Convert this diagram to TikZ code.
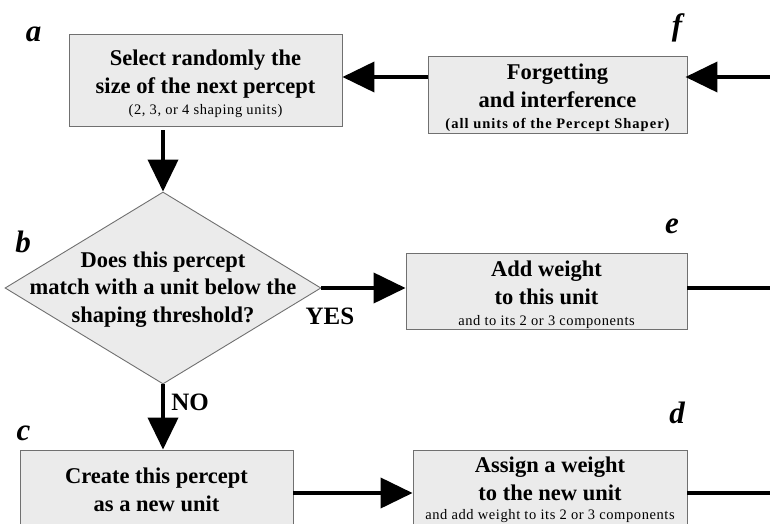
\documentclass[tikz,border=0pt]{standalone}
\usepackage{fontspec}
\setmainfont{Liberation Serif}
\usetikzlibrary{arrows.meta,shapes.geometric}
\definecolor{boxfill}{HTML}{EBEBEB}
\definecolor{boxline}{HTML}{707070}
\newfontfamily\smallreg[LetterSpace=4]{Liberation Serif}
\newfontfamily\smallbf[LetterSpace=7,UprightFont=* Bold]{Liberation Serif}
\newcommand{\smalltxt}[1]{{\fontsize{14.5}{17}\smallreg\mdseries #1}}
\newcommand{\smallbold}[1]{{\fontsize{14.5}{17}\smallbf #1}}
\newcommand{\lift}[1]{\rule{0pt}{#1}}
\begin{document}
\begin{tikzpicture}[x=1pt,y=-1pt,
  box/.style={draw=boxline, fill=boxfill, line width=0.9pt, inner sep=0pt, align=center,
    font=\fontsize{22.5}{28}\selectfont\bfseries},
  dtext/.style={inner sep=0pt, align=center, font=\fontsize{22.5}{27.5}\selectfont\bfseries},
  arr/.style={line width=4pt, -{Triangle[length=32pt,width=30pt]}},
  plain/.style={line width=4pt},
  letter/.style={font=\fontsize{31}{31}\selectfont\bfseries\itshape, inner sep=0pt, anchor=base},
  answer/.style={font=\fontsize{25}{25}\selectfont\bfseries, inner sep=0pt}
]
\useasboundingbox (0,0) rectangle (770,524);
\clip (0,0) rectangle (770,524);

% boxes
\node[box, minimum width=273pt, minimum height=92pt] (a) at (205.5,80)
  {\lift{24pt}Select randomly the\\size of the next percept\\[-7pt]\smalltxt{(2, 3, or 4 shaping units)}};
\node[box, minimum width=259pt, minimum height=77pt] (f) at (557.5,94.5)
  {\lift{23pt}Forgetting\\and interference\\[-7pt]\smallbold{(all units of the Percept Shaper)}};
\node[diamond, draw=boxline, fill=boxfill, line width=0.9pt, inner sep=0pt,
  minimum width=316pt, minimum height=192pt] (b) at (163,288) {};
\node[dtext] (btext) at (163,289.5)
  {Does this percept\\match with a unit below the\\shaping threshold?};
\node[box, minimum width=281pt, minimum height=76pt] (e) at (546.5,291)
  {\lift{23pt}Add weight\\to this unit\\[-7pt]\smalltxt{and to its 2 or 3 components}};
\node[box, minimum width=273pt, minimum height=80pt] (c) at (156.5,490)
  {Create this percept\\as a new unit};
\node[box, minimum width=274pt, minimum height=80pt] (d) at (550,490)
  {\lift{16pt}Assign a weight\\to the new unit\\[-9pt]\smalltxt{and add weight to its 2 or 3 components}};

% letters
\node[letter] (la) at (33.5,42) {a};
\node[letter] (lb) at (23,252) {b};
\node[letter] (lc) at (23.5,440) {c};
\node[letter] (ld) at (677,423) {d};
\node[letter] (le) at (672,233) {e};
\node[letter] (lf) at (677,36) {f};

% answers
\node[answer] (yes) at (330,316.5) {YES};
\node[answer] (no) at (190,402.5) {NO};

% connectors
\coordinate (rin) at (770,77);
\coordinate (rout1) at (770,288);
\coordinate (cd) at (0,493);
\coordinate (rout2) at (770,493);
\draw[arr, shorten >=-2pt] (rin) -- (f.east |- rin);
\draw[arr] (f.west |- rin) -- (a.east |- rin);
\draw[arr, shorten <=4pt] (a.south -| b.north) -- (b.north);
\draw[arr] (b.east) -- (e.west |- b.east);
\draw[arr] (b.south) -- (c.north -| b.south);
\draw[arr] (c.east |- cd) -- (d.west |- cd);
\draw[plain] (e.east |- rout1) -- (rout1);
\draw[plain] (d.east |- rout2) -- (rout2);
\end{tikzpicture}
\end{document}
